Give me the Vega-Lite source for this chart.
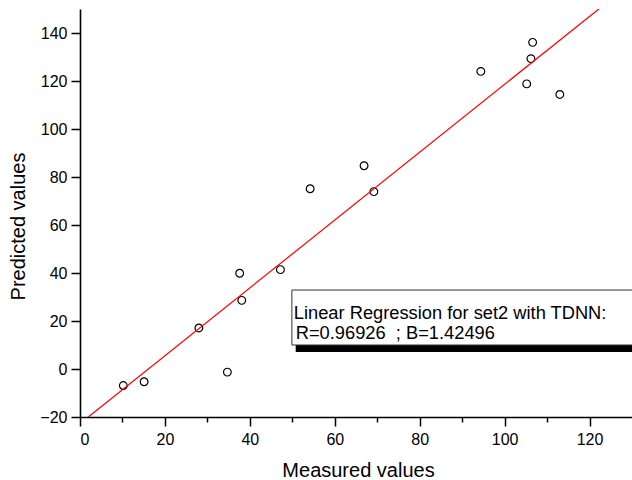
{
  "$schema": "https://vega.github.io/schema/vega-lite/v6.json",
  "width": 552,
  "height": 408,
  "autosize": {"type": "none"},
  "padding": {"left": 80, "top": 9, "right": 0, "bottom": 63},
  "background": "white",
  "config": {
    "view": {"stroke": null},
    "font": "Liberation Sans",
    "axis": {
      "grid": false,
      "domainColor": "black",
      "domainWidth": 1.6,
      "tickColor": "black",
      "tickWidth": 1.5,
      "labelColor": "black",
      "labelFont": "Liberation Sans",
      "labelFontSize": 16,
      "titleFont": "Liberation Sans",
      "titleFontSize": 20,
      "titleFontWeight": "normal",
      "titleColor": "black"
    }
  },
  "datasets": {
    "points": [
      {"measured": 10.2, "predicted": -6.9},
      {"measured": 15.1, "predicted": -5.3},
      {"measured": 28.0, "predicted": 17.1},
      {"measured": 34.7, "predicted": -1.3},
      {"measured": 37.6, "predicted": 39.9},
      {"measured": 38.1, "predicted": 28.6},
      {"measured": 47.2, "predicted": 41.4},
      {"measured": 54.2, "predicted": 75.1},
      {"measured": 66.9, "predicted": 84.7},
      {"measured": 69.2, "predicted": 73.9},
      {"measured": 94.4, "predicted": 124.0},
      {"measured": 105.2, "predicted": 118.8},
      {"measured": 106.2, "predicted": 129.3},
      {"measured": 106.6, "predicted": 136.1},
      {"measured": 113.0, "predicted": 114.4}
    ],
    "fit": [
      {"measured": 1.96, "predicted": -20},
      {"measured": 122.2, "predicted": 150}
    ]
  },
  "layer": [
    {
      "data": {"name": "points"},
      "mark": {"type": "point", "shape": "circle", "filled": false, "color": "black", "strokeWidth": 1.2, "size": 60, "opacity": 1},
      "encoding": {
        "x": {
          "field": "measured", "type": "quantitative",
          "scale": {"domain": [0, 130], "nice": false, "zero": false},
          "axis": {
            "title": "Measured values",
            "values": [0, 10, 20, 30, 40, 50, 60, 70, 80, 90, 100, 110, 120],
            "labelExpr": "datum.value % 20 == 0 ? datum.label : ''",
            "tickSize": {"condition": {"test": "datum.value % 20 != 0", "value": 5}, "value": 9},
            "labelPadding": 5,
            "titleX": 278,
            "titleY": 59.7,
            "titleBaseline": "alphabetic",
            "titleAlign": "center"
          }
        },
        "y": {
          "field": "predicted", "type": "quantitative",
          "scale": {"domain": [-20, 150], "nice": false, "zero": false},
          "axis": {
            "title": "Predicted values",
            "values": [-20, -10, 0, 10, 20, 30, 40, 50, 60, 70, 80, 90, 100, 110, 120, 130, 140, 150],
            "labelExpr": "datum.value % 20 == 0 ? datum.label : ''",
            "tickSize": {"condition": {"test": "datum.value % 20 != 0", "value": 5}, "value": 9},
            "labelPadding": 4,
            "titleX": -56,
            "titleY": 217,
            "titleBaseline": "alphabetic",
            "titleAlign": "center",
            "titleAngle": -90
          }
        }
      }
    },
    {
      "data": {"name": "fit"},
      "mark": {"type": "line", "color": "#ff0000", "strokeWidth": 1.2, "clip": true},
      "encoding": {
        "x": {"field": "measured", "type": "quantitative"},
        "y": {"field": "predicted", "type": "quantitative"}
      }
    },
    {
      "data": {"values": [{}]},
      "mark": {"type": "rect", "color": "black", "clip": true},
      "encoding": {
        "x": {"datum": 50.8}, "x2": {"datum": 140},
        "y": {"datum": 30}, "y2": {"datum": 7.1}
      }
    },
    {
      "data": {"values": [{}]},
      "mark": {"type": "rect", "fill": "white", "stroke": "#333333", "strokeWidth": 1, "clip": true},
      "encoding": {
        "x": {"datum": 49.9}, "x2": {"datum": 140},
        "y": {"datum": 32.9}, "y2": {"datum": 10}
      }
    },
    {
      "data": {"values": [{}]},
      "mark": {"type": "text", "text": "Linear Regression for set2 with TDNN:", "align": "left", "baseline": "alphabetic", "fontSize": 18.3, "font": "Liberation Sans", "color": "black"},
      "encoding": {"x": {"datum": 50.35}, "y": {"datum": 20.7}}
    },
    {
      "data": {"values": [{}]},
      "mark": {"type": "text", "text": "R=0.96926\u00a0\u00a0; B=1.42496", "align": "left", "baseline": "alphabetic", "fontSize": 18.3, "font": "Liberation Sans", "color": "black"},
      "encoding": {"x": {"datum": 50.8}, "y": {"datum": 12.4}}
    }
  ]
}
